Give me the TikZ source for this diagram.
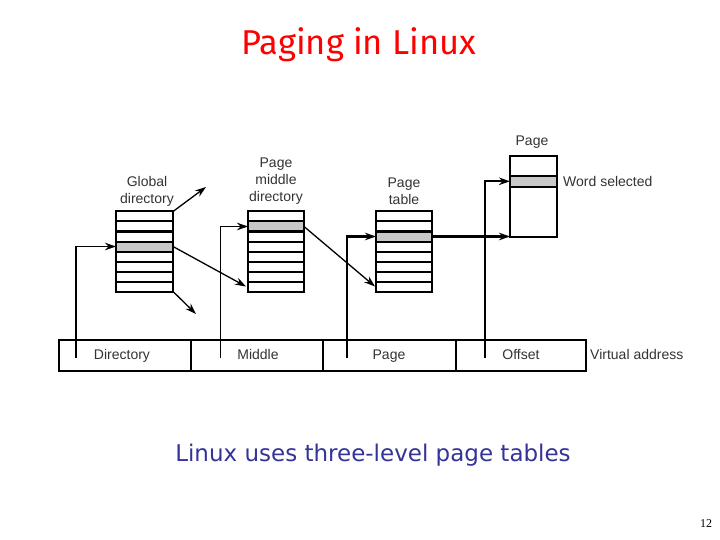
\documentclass[tikz,border=0pt]{standalone}
\usepackage{fontspec}
\setmainfont{Liberation Sans}
\newfontfamily\titlefont{Fira Sans}
\newfontfamily\subfont{DejaVu Sans}
\newfontfamily\numfont{Liberation Serif}
\usetikzlibrary{arrows.meta}
\definecolor{rowgray}{RGB}{200,200,200}
\definecolor{subblue}{RGB}{51,51,153}
\tikzset{
  tabrow/.style={draw, line width=2pt, minimum height=10pt, inner sep=0pt, outer sep=0pt},
  grayrow/.style={tabrow, fill=rowgray},
  lbl/.style={font=\fontsize{14}{17}\selectfont, text=black!80, align=center, inner sep=0pt},
  flbl/.style={lbl, text height=10pt, text depth=3pt},
  arr/.style={line width=1.3pt, -{Stealth[length=11pt,width=7.5pt]}},
  tarr/.style={line width=2.2pt, -{Stealth[length=11pt,width=7.5pt]}},
  field/.style={draw, line width=2pt, minimum height=31pt, inner sep=0pt, outer sep=0pt}
}
\begin{document}
\begin{tikzpicture}[x=1pt,y=-1pt]
\useasboundingbox (0,0) rectangle (720,540);
% title
\node[text=red, font=\titlefont\fontsize{34.5}{38}\selectfont] (title) at (359,45) {Paging in Linux};
% global directory
\foreach \i in {1,...,8}{
  \pgfmathsetmacro{\yy}{211.5+10*\i-5}
  \ifnum\i=4 \node[grayrow, minimum width=57pt] (g\i) at (144.5,\yy) {};
  \else \node[tabrow, minimum width=57pt] (g\i) at (144.5,\yy) {}; \fi
}
% middle directory
\foreach \i in {1,...,8}{
  \pgfmathsetmacro{\yy}{211.5+10*\i-5}
  \ifnum\i=2 \node[grayrow, minimum width=56pt] (m\i) at (276,\yy) {};
  \else \node[tabrow, minimum width=56pt] (m\i) at (276,\yy) {}; \fi
}
% page table
\foreach \i in {1,...,8}{
  \pgfmathsetmacro{\yy}{211.5+10*\i-5}
  \ifnum\i=3 \node[grayrow, minimum width=56pt] (t\i) at (404,\yy) {};
  \else \node[tabrow, minimum width=56pt] (t\i) at (404,\yy) {}; \fi
}
% page
\node[tabrow, minimum width=47pt, minimum height=81pt] (page) at (533.5,196.5) {};
\node[grayrow, minimum width=47pt, minimum height=10.5pt] (word) at (533.5,181.3) {};
% labels
\node[lbl] (lg) at (147,191) {Global\\directory};
\node[lbl] (lm) at (276,181.5) {Page\\middle\\directory};
\node[lbl] (lt) at (404,191.5) {Page\\table};
\node[lbl] (lp) at (532,142) {Page};
\node[lbl, anchor=west] (lw) at (563,181.5) {Word selected};
% virtual address
\node[field, minimum width=132pt] (fd) at (125,355.5) {};
\node[field, minimum width=132pt] (fm) at (257,355.5) {};
\node[field, minimum width=133pt] (fp) at (389.5,355.5) {};
\node[field, minimum width=130pt] (fo) at (521,355.5) {};
\node[flbl] at (122,355.5) {Directory};
\node[flbl] at (258,355.5) {Middle};
\node[flbl] at (389,355.5) {Page};
\node[flbl] at (521,355.5) {Offset};
\node[flbl, anchor=west] (va) at (590,355.5) {Virtual address};
% connector start points
\coordinate (cd) at (76,358);
\coordinate (cm) at (220.5,358);
\coordinate (cp) at (347,358);
\coordinate (co) at (485,358);
\coordinate (e1) at (206,187);
\coordinate (e2) at (196,314);
% connectors
\draw[arr] (cd) |- (g4.west);
\draw[arr] (cm) |- (m2.west);
\draw[tarr] (cp) |- (t3.west);
\draw[tarr] (co) |- (word.west);
\draw[tarr] (t3.east) -- (t3.east -| page.west);
\draw[arr] (g1.north east) -- (e1);
\draw[arr] (g8.south east) -- (e2);
\draw[arr] (g4.east) -- ([xshift=-2pt]m8.west);
\draw[arr] (m2.east) -- ([xshift=-1pt]t8.west);
% caption
\node[text=subblue, font=\subfont\fontsize{23}{27}\selectfont] (cap) at (373,455) {Linux uses three-level page tables};
\node[font=\numfont\fontsize{12}{14}\selectfont] (num) at (706,524) {12};
\end{tikzpicture}
\end{document}
